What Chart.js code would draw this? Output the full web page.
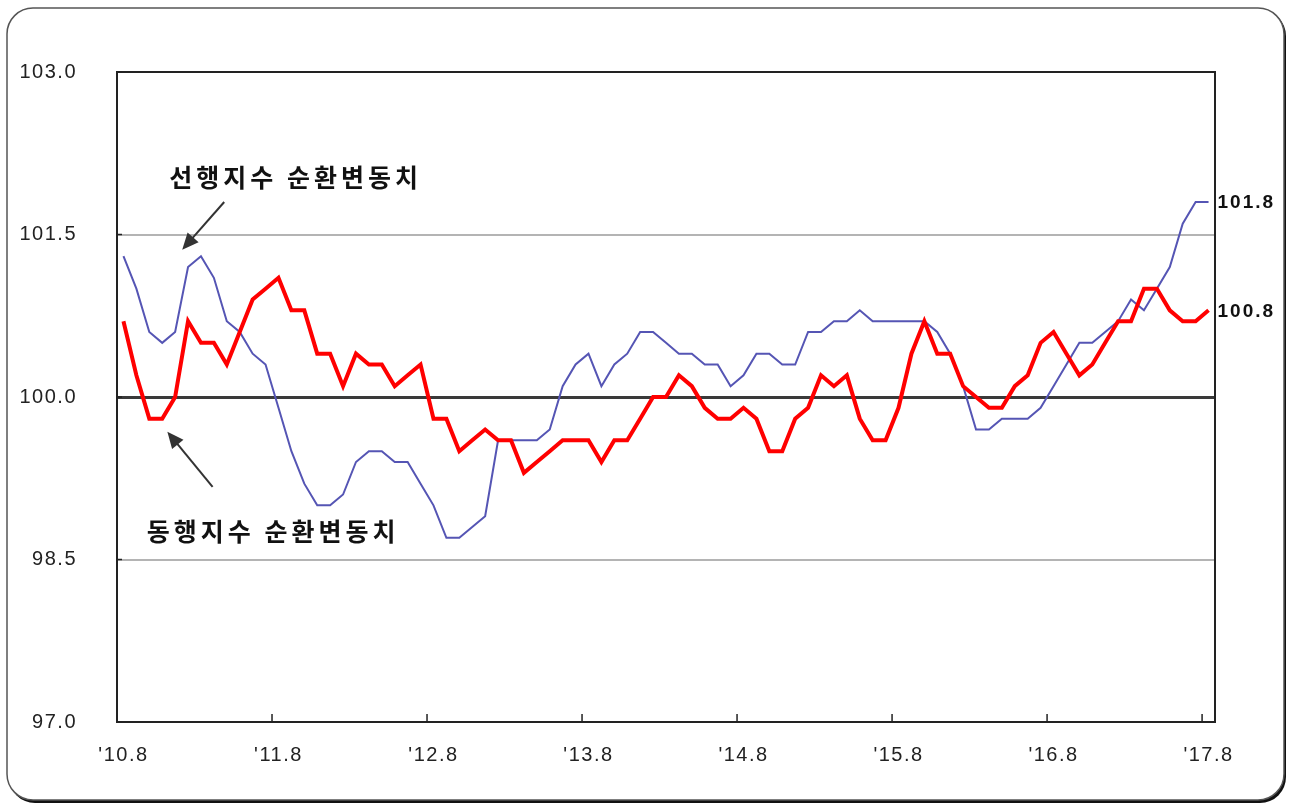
<!DOCTYPE html>
<html lang="ko">
<head>
<meta charset="utf-8">
<title>선행지수 · 동행지수 순환변동치</title>
<script src="https://cdn.jsdelivr.net/npm/chart.js@4.4.1/dist/chart.umd.min.js"></script>
<style>
  html, body { margin: 0; padding: 0; background: #fff; }
  #wrap { position: relative; width: 1291px; height: 805px; }
</style>
</head>
<body>
<div id="wrap"><canvas id="cycleChart" width="1291" height="805"></canvas></div>
<script>
// months '10.8 ~ '17.8
const startYear = 10, startMonth = 8, monthCount = 85;
const months = [];
for (let i = 0; i < monthCount; i++) {
  const m = startMonth - 1 + i;
  months.push("'" + (startYear + Math.floor(m / 12)) + '.' + (m % 12 + 1));
}
const tickLabels = ["'10.8", "'11.8", "'12.8", "'13.8", "'14.8", "'15.8", "'16.8", "'17.8"];
const yTicks = [97.0, 98.5, 100.0, 101.5, 103.0];

// 선행지수 순환변동치 (blue)
const leading = [
  101.3, 101.0, 100.6, 100.5, 100.6, 101.2, 101.3, 101.1, 100.7, 100.6, 100.4, 100.3,
  99.9, 99.5, 99.2, 99.0, 99.0, 99.1, 99.4, 99.5, 99.5, 99.4, 99.4, 99.2,
  99.0, 98.7, 98.7, 98.8, 98.9, 99.6, 99.6, 99.6, 99.6, 99.7, 100.1, 100.3,
  100.4, 100.1, 100.3, 100.4, 100.6, 100.6, 100.5, 100.4, 100.4, 100.3, 100.3, 100.1,
  100.2, 100.4, 100.4, 100.3, 100.3, 100.6, 100.6, 100.7, 100.7, 100.8, 100.7, 100.7,
  100.7, 100.7, 100.7, 100.6, 100.4, 100.1, 99.7, 99.7, 99.8, 99.8, 99.8, 99.9,
  100.1, 100.3, 100.5, 100.5, 100.6, 100.7, 100.9, 100.8, 101.0, 101.2, 101.6, 101.8, 101.8
];

// 동행지수 순환변동치 (red)
const coincident = [
  100.7, 100.2, 99.8, 99.8, 100.0, 100.7, 100.5, 100.5, 100.3, 100.6, 100.9, 101.0,
  101.1, 100.8, 100.8, 100.4, 100.4, 100.1, 100.4, 100.3, 100.3, 100.1, 100.2, 100.3,
  99.8, 99.8, 99.5, 99.6, 99.7, 99.6, 99.6, 99.3, 99.4, 99.5, 99.6, 99.6,
  99.6, 99.4, 99.6, 99.6, 99.8, 100.0, 100.0, 100.2, 100.1, 99.9, 99.8, 99.8,
  99.9, 99.8, 99.5, 99.5, 99.8, 99.9, 100.2, 100.1, 100.2, 99.8, 99.6, 99.6,
  99.9, 100.4, 100.7, 100.4, 100.4, 100.1, 100.0, 99.9, 99.9, 100.1, 100.2, 100.5,
  100.6, 100.4, 100.2, 100.3, 100.5, 100.7, 100.7, 101.0, 101.0, 100.8, 100.7, 100.7, 100.8
];

// annotation anchors, in data units (category index, value)
const notes = [
  { text: '선행지수 순환변동치', at: [3.55, 102.03], from: [7.8, 101.80], to: [4.55, 101.36] },
  { text: '동행지수 순환변동치', at: [1.8, 98.76], from: [6.9, 99.17], to: [3.4, 99.68] }
];

function arrow(ctx, x1, y1, x2, y2) {
  const ang = Math.atan2(y2 - y1, x2 - x1);
  const head = 18;
  ctx.beginPath();
  ctx.moveTo(x1, y1);
  ctx.lineTo(x2 - Math.cos(ang) * head * 0.8, y2 - Math.sin(ang) * head * 0.8);
  ctx.stroke();
  ctx.beginPath();
  ctx.moveTo(x2, y2);
  ctx.lineTo(x2 - head * Math.cos(ang - 0.42), y2 - head * Math.sin(ang - 0.42));
  ctx.lineTo(x2 - head * Math.cos(ang + 0.42), y2 - head * Math.sin(ang + 0.42));
  ctx.closePath();
  ctx.fill();
}

const framePlugin = {
  id: 'frame',
  beforeDraw(chart) {
    const ctx = chart.ctx;
    ctx.save();
    ctx.fillStyle = '#fff';
    ctx.fillRect(0, 0, chart.width, chart.height);
    // rounded box with dark right/bottom edge
    ctx.beginPath();
    ctx.roundRect(9, 10, 1277, 793, 26);
    ctx.fillStyle = '#111';
    ctx.fill();
    ctx.beginPath();
    ctx.roundRect(7, 8, 1277, 792, 26);
    ctx.fillStyle = '#fff';
    ctx.fill();
    ctx.lineWidth = 1.5;
    ctx.strokeStyle = '#555';
    ctx.stroke();
    ctx.restore();
    ctx.letterSpacing = '1.5px';
  },
  afterDraw(chart) {
    const ctx = chart.ctx;
    const { left, right, top, bottom } = chart.chartArea;
    const xs = chart.scales.x, ys = chart.scales.y;
    ctx.save();

    // plot box
    ctx.strokeStyle = '#222';
    ctx.lineWidth = 2;
    ctx.strokeRect(left, top, right - left, bottom - top);

    // inward tick marks on x axis (between categories, every 12 months)
    ctx.lineWidth = 1.5;
    for (let i = 12; i < months.length; i += 12) {
      const x = (xs.getPixelForValue(i - 1) + xs.getPixelForValue(i)) / 2;
      ctx.beginPath();
      ctx.moveTo(x, bottom);
      ctx.lineTo(x, bottom - 8);
      ctx.stroke();
    }
    // inward ticks on y axis
    yTicks.forEach(v => {
      const y = ys.getPixelForValue(v);
      ctx.beginPath();
      ctx.moveTo(left, y);
      ctx.lineTo(left + 5, y);
      ctx.stroke();
    });

    // last values at the right end
    ctx.font = 'bold 19px "Liberation Sans", Arial, sans-serif';
    ctx.letterSpacing = '2px';
    ctx.fillStyle = '#111';
    ctx.textBaseline = 'middle';
    ctx.textAlign = 'left';
    chart.data.datasets.forEach((ds, di) => {
      const pts = chart.getDatasetMeta(di).data;
      const last = pts[pts.length - 1];
      ctx.fillText(ds.data[ds.data.length - 1].toFixed(1), last.x + 9, last.y + 1);
    });

    // annotations
    ctx.font = 'bold 25px "Noto Sans CJK KR", sans-serif';
    ctx.letterSpacing = '4px';
    ctx.strokeStyle = '#333';
    ctx.fillStyle = '#111';
    ctx.lineWidth = 2;
    notes.forEach(n => {
      ctx.fillText(n.text, xs.getPixelForValue(n.at[0]), ys.getPixelForValue(n.at[1]));
      ctx.fillStyle = '#333';
      arrow(ctx, xs.getPixelForValue(n.from[0]), ys.getPixelForValue(n.from[1]),
                 xs.getPixelForValue(n.to[0]), ys.getPixelForValue(n.to[1]));
      ctx.fillStyle = '#111';
    });
    ctx.restore();
    ctx.letterSpacing = '0px';
  }
};

new Chart(document.getElementById('cycleChart').getContext('2d'), {
  type: 'line',
  data: {
    labels: months,
    datasets: [
      {
        label: '동행지수 순환변동치',
        data: coincident,
        borderColor: '#ff0000',
        borderWidth: 4,
        pointRadius: 0,
        tension: 0,
        fill: false
      },
      {
        label: '선행지수 순환변동치',
        data: leading,
        borderColor: '#5555b4',
        borderWidth: 2,
        pointRadius: 0,
        tension: 0,
        fill: false
      }
    ]
  },
  options: {
    responsive: false,
    animation: false,
    layout: { padding: { top: 72, right: 76, bottom: 0, left: 0 } },
    plugins: {
      legend: { display: false },
      tooltip: { enabled: false }
    },
    scales: {
      x: {
        type: 'category',
        offset: true,
        afterFit: s => { s.height = 83; },
        grid: { display: false },
        border: { display: false },
        ticks: {
          autoSkip: false,
          maxRotation: 0,
          padding: 13,
          color: '#222',
          font: { family: '"Liberation Sans", Arial, sans-serif', size: 20 },
          callback: (val, idx) => idx % 12 === 0 ? tickLabels[idx / 12] : ''
        }
      },
      y: {
        min: 97,
        max: 103,
        afterFit: s => { s.width = 117; },
        afterBuildTicks: s => { s.ticks = yTicks.map(v => ({ value: v })); },
        border: { display: false },
        grid: {
          drawTicks: false,
          color: c => c.tick.value === 100 ? '#3a3a3a'
            : (c.tick.value === 97 || c.tick.value === 103 ? 'rgba(0,0,0,0)' : '#b4b4b4'),
          lineWidth: c => c.tick.value === 100 ? 3 : 2
        },
        ticks: {
          padding: 40,
          color: '#222',
          font: { family: '"Liberation Sans", Arial, sans-serif', size: 20 },
          callback: v => Number(v).toFixed(1)
        }
      }
    }
  },
  plugins: [framePlugin]
});
</script>
</body>
</html>
